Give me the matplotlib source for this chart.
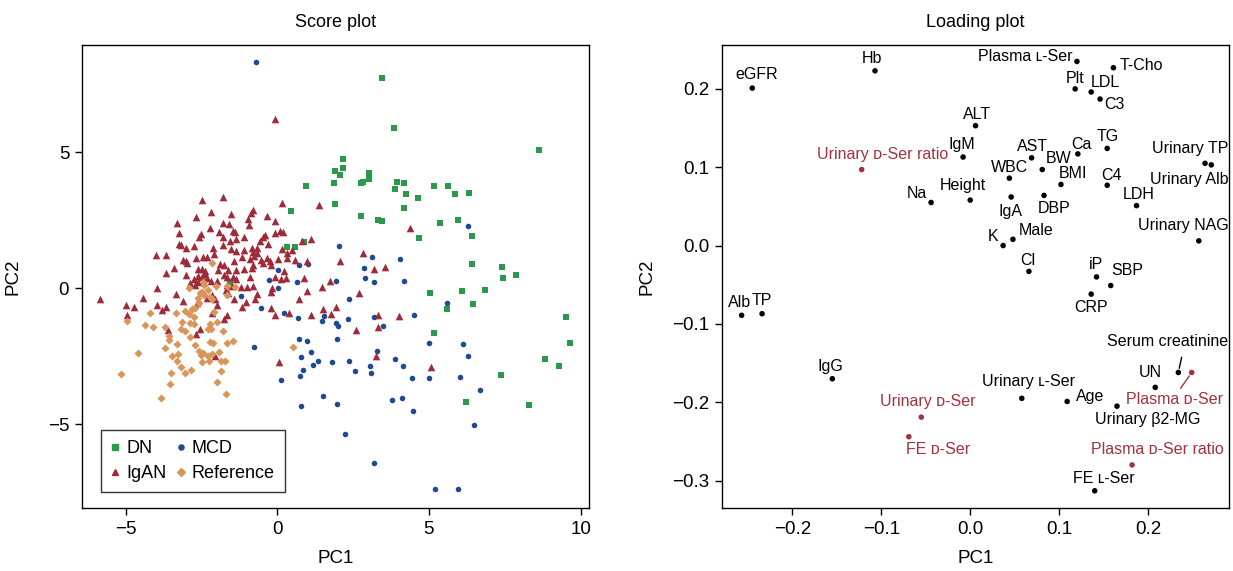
import matplotlib
matplotlib.use("Agg")
import matplotlib.pyplot as plt
from matplotlib.lines import Line2D

plt.rcParams['font.family'] = ['Liberation Sans', 'DejaVu Sans']

# ---------------- Score plot data ----------------
dn_pc1 = [3.44, 3.84, 8.63, 2.18, 2.18, 1.89, 2.08, 1.88, 3.03, 3.01, 2.76, 2.83, 3.94, 4.19, 3.89, 4.23,
          4.65, 5.16, 5.64, 5.85, 6.31, 1.90, 2.75, 3.31, 3.46, 4.17, 5.36, 5.96, 4.66, 6.42, 6.43, 7.42,
          7.43, 7.86, 5.03, 6.08, 6.85, 5.61, 6.45, 5.16, 9.51, 9.64, 8.83, 9.29, 7.38, 6.22, 8.30, 0.94,
          0.45, 0.33, 0.58, 0.88, -1.56]
dn_pc2 = [7.72, 5.90, 5.08, 4.76, 4.42, 4.30, 4.17, 3.85, 4.23, 4.01, 3.88, 3.90, 3.92, 3.86, 3.63, 3.47,
          3.32, 3.74, 3.76, 3.48, 3.51, 3.09, 2.66, 2.49, 2.46, 2.95, 2.38, 2.51, 1.84, 1.93, 0.88, 0.78,
          0.37, 0.49, -0.16, -0.11, -0.06, -0.77, -0.58, -1.65, -1.07, -2.01, -2.60, -2.86, -3.20, -4.19,
          -4.29, 3.74, 2.83, 1.53, 1.53, 1.70, 0.21]

mcd_pc1 = [-0.69, 2.03, 1.00, 0.72, 0.01, -0.27, 0.64, 1.93, 0.01, -1.21, -0.55, 0.23, 6.30, 3.11, 4.06,
           2.87, 2.90, 3.18, 4.19, 2.36, 5.61, 2.32, 3.20, 4.50, 1.93, 2.01, 3.49, 1.98, 5.00, 6.12, 3.28,
           6.28, 1.79, 2.35, 3.88, 3.05, 4.16, 2.57, 3.08, 4.45, 5.00, 6.02, 6.69, 3.77, 4.12, 1.98, 4.47,
           6.50, 2.23, 3.18, 5.20, 5.95, 0.69, 1.48, 1.55, 0.73, 0.97, -0.76, 1.12, 0.77, 1.35, 1.18, 0.86,
           0.74, 0.11, 1.51, 0.77]
mcd_pc2 = [8.32, 1.54, 0.88, 0.85, 0.66, 0.31, 0.21, 0.27, 0.00, -0.29, -0.71, -0.92, 2.29, 1.14, 1.09,
           0.76, 0.39, 0.22, 0.26, -0.38, -0.55, -1.12, -1.07, -0.97, -1.29, -1.40, -1.39, -1.85, -2.01,
           -2.06, -2.31, -2.50, -2.71, -2.66, -2.61, -2.86, -2.86, -3.03, -3.10, -3.30, -3.31, -3.25, -3.73,
           -4.11, -4.02, -4.26, -4.52, -5.03, -5.35, -6.43, -7.39, -7.39, -1.08, -1.19, -1.02, -1.88, -1.95,
           -2.15, -2.34, -2.54, -2.67, -2.81, -2.99, -3.22, -3.36, -3.95, -4.33]

igan_pc1 = [-0.07, -1.78, -2.48, 0.15, 1.39, -2.20, -0.81, -0.87, -1.52, -0.35, -2.68, -0.98, -0.09, -3.30,
            -1.80, -1.58, -0.94, -2.23, -1.45, -1.40, -1.93, -3.24, 0.10, 0.19, -0.07, -2.53, -2.59, -0.41,
            -0.46, -1.80, -1.09, -1.57, -1.36, -0.57, 1.12, 0.80, -3.23, -3.19, -0.30, -1.78, -3.00, -2.13,
            -2.75, 0.15, 0.48, -1.52, -1.36, -0.83, -0.66, -1.10, -4.00, -3.67, -2.33, -2.45, -2.10, -0.81,
            -0.66, -0.76, -3.10, -3.02, -2.98, -2.67, -1.90, -1.75, -1.43, -1.15, -0.90, -0.53, -0.47, -0.33,
            -0.24, 0.03, 0.32, 0.31, 0.57, 0.97, -0.80, -2.62, -2.49, -2.38, -3.40, -3.66, -1.95, -1.64,
            -1.37, -1.09, -0.82, 0.22, -2.76, -2.63, -2.48, -2.39, -2.33, -1.76, -1.67, -1.46, -1.35, -0.89,
            -0.09, 0.12, 0.28, 0.88, -3.02, -3.97, -2.88, -2.63, -2.43, -2.18, -2.00, -1.66, -1.50, -1.20,
            -1.01, -0.80, -0.18, 1.48, 1.74, 2.06, -0.20, 4.39, 2.83, 3.18, 3.56, 2.69, 1.93, 3.33, 4.00,
            2.59, 3.31, 3.25, 5.06, -5.86, -4.99, -4.72, -4.42, -3.97, -3.79, -3.66, -3.33, -4.95, -2.65,
            -2.32, -2.15, -2.06, -1.99, -1.68, -1.64, -1.42, -1.17, -1.04, -0.75, -0.68, -0.20, -0.21, -0.09,
            0.40, 0.73, 0.97, 1.10, 1.50, 1.76, -1.75, -1.66, -2.16, -3.59, -2.55, -2.68, -2.04, 0.06,
            -3.10, -2.70]
igan_pc2 = [6.21, 3.36, 3.24, 3.14, 3.05, 2.81, 2.89, 2.77, 2.73, 2.67, 2.61, 2.54, 2.46, 2.41, 2.38, 2.35,
            2.34, 2.22, 2.11, 2.08, 2.07, 2.02, 2.10, 2.07, 2.02, 1.99, 1.88, 1.95, 1.88, 1.90, 1.88, 1.75,
            1.80, 1.73, 1.80, 1.73, 1.64, 1.59, 1.62, 1.57, 1.48, 1.49, 1.56, 1.44, 1.42, 1.43, 1.35, 1.49,
            1.49, 1.41, 1.22, 1.22, 1.14, 1.14, 1.27, 1.32, 1.30, 1.18, 1.03, 0.99, 0.94, 1.11, 0.89, 0.85,
            0.99, 1.14, 1.07, 1.04, 0.94, 1.10, 1.00, 1.08, 1.31, 1.10, 1.04, 1.01, 0.85, 0.70, 0.70, 0.65,
            0.75, 0.57, 0.66, 0.67, 0.68, 0.70, 0.75, 0.65, 0.35, 0.45, 0.42, 0.54, 0.37, 0.50, 0.43, 0.40,
            0.33, 0.40, 0.42, 0.35, 0.39, 0.39, 0.48, 0.00, 0.18, 0.22, 0.21, 0.26, 0.27, 0.12, 0.08, 0.04,
            0.04, 0.08, 0.00, 0.04, 0.26, 1.00, 0.85, 2.21, 1.29, 0.70, 0.79, -0.16, -0.68, -0.99, -1.04,
            -1.54, -1.43, -2.51, -2.88, -0.40, -0.60, -0.68, -0.36, -0.60, -0.79, -0.70, -0.20, -0.98, -0.53,
            -0.37, -0.24, -0.40, -0.60, -0.06, -0.18, -0.38, -0.68, -0.50, -0.40, -0.22, -0.15, -0.72, -0.99,
            -0.92, -0.39, -0.09, -0.97, -0.76, -0.93, -1.12, -0.97, -0.90, -1.53, -1.50, -1.69, -2.49, -2.72,
            -0.46, 0.12]

ref_pc1 = [-2.15, -2.90, -2.44, -2.41, -2.03, -1.39, -1.67, -2.61, -2.70, -4.21, -3.34, -3.03, -2.92, -2.54,
           -2.48, -2.43, -2.28, -2.22, -2.16, -1.66, -2.58, -2.82, -2.08, -4.97, -2.74, -4.35, -4.11, -3.70,
           -3.14, -2.88, -2.75, -3.17, -3.03, -2.23, -2.00, -2.28, -2.18, -1.78, -3.56, -3.56, -2.88, -2.22,
           -2.11, -1.67, -1.45, -3.30, -3.71, -2.72, -2.57, -2.44, -2.52, -2.17, -2.28, -1.91, -3.47, -3.28,
           -4.58, -3.30, -2.48, -2.25, -1.86, -1.71, -3.17, -2.84, -3.03, -3.51, -1.86, -5.15, -2.00, -3.54,
           -3.83, -1.68, 0.53]
ref_pc2 = [0.94, 0.00, 0.21, 0.12, 0.08, 0.04, 0.08, -0.35, -0.71, -0.92, -0.90, -0.85, -0.93, -0.18,
           -0.14, -0.24, -0.06, -0.31, -0.40, -0.26, -0.56, -0.76, -0.88, -1.20, -1.07, -1.34, -1.41, -1.43,
           -1.24, -1.28, -1.31, -1.49, -1.56, -1.32, -1.23, -1.50, -1.50, -1.56, -1.75, -1.90, -1.78, -1.97,
           -2.02, -2.02, -1.93, -2.04, -2.19, -2.10, -2.32, -2.39, -2.46, -2.42, -2.51, -2.34, -2.51, -2.43,
           -2.40, -2.67, -2.71, -2.68, -2.67, -2.66, -2.90, -3.02, -3.11, -3.10, -3.05, -3.15, -3.43, -3.51,
           -4.02, -3.88, -2.16]

# ---------------- Loading plot data ----------------
load_names = ["eGFR", "Hb", "Plasma \u029f-Ser", "T-Cho", "Plt", "LDL", "C3", "ALT", "IgM",
              "Urinary \u1d05-Ser ratio", "AST", "Ca", "TG", "BW", "WBC", "BMI", "C4", "Urinary TP",
              "Urinary Alb", "Na", "Height", "IgA", "DBP", "LDH", "Urinary NAG", "K", "Male", "Cl", "iP",
              "SBP", "CRP", "Alb", "TP", "IgG", "Urinary \u1d05-Ser", "FE \u1d05-Ser", "Urinary \u029f-Ser",
              "Age", "Urinary \u03b22-MG", "UN", "Serum creatinine", "Plasma \u1d05-Ser",
              "Plasma \u1d05-Ser ratio", "FE \u029f-Ser"]
load_pc1 = [-0.245, -0.107, 0.120, 0.161, 0.118, 0.136, 0.146, 0.006, -0.008, -0.122, 0.069, 0.121, 0.154,
            0.081, 0.044, 0.102, 0.154, 0.264, 0.271, -0.044, 0.000, 0.046, 0.083, 0.187, 0.257, 0.037,
            0.048, 0.066, 0.142, 0.158, 0.136, -0.257, -0.234, -0.155, -0.055, -0.069, 0.058, 0.109, 0.165,
            0.208, 0.234, 0.249, 0.182, 0.140]
load_pc2 = [0.201, 0.223, 0.235, 0.227, 0.200, 0.196, 0.187, 0.153, 0.113, 0.097, 0.112, 0.117, 0.124,
            0.097, 0.086, 0.078, 0.077, 0.105, 0.103, 0.055, 0.058, 0.062, 0.064, 0.051, 0.006, 0.000,
            0.008, -0.033, -0.040, -0.051, -0.062, -0.089, -0.087, -0.170, -0.219, -0.244, -0.195, -0.199,
            -0.205, -0.181, -0.162, -0.162, -0.280, -0.313]
load_dser = ["Urinary \u1d05-Ser ratio", "Urinary \u1d05-Ser", "FE \u1d05-Ser", "Plasma \u1d05-Ser",
             "Plasma \u1d05-Ser ratio"]

# label placement (offset of label centre from its point, in pixels) -- styling only
label_offsets = {
    "eGFR": (4.5, 13.7), "Hb": (-2.7, 12), "Plasma \u029f-Ser": (-52, 4.7), "T-Cho": (28.3, 2.3),
    "Plt": (-0.5, 10.7), "LDL": (13.7, 9.7), "C3": (14.5, -5), "ALT": (1.3, 10.7), "IgM": (-1.5, 13),
    "Urinary \u1d05-Ser ratio": (20.7, 15), "AST": (1.3, 11.3), "Ca": (3.2, 9), "TG": (0.2, 12.3),
    "BW": (16.3, 10.7), "WBC": (0.2, 10.3), "BMI": (12.3, 10.7), "C4": (4.7, 10),
    "Urinary TP": (-15, 14.7), "Urinary Alb": (-21.8, -15), "Na": (-14, 9.3), "Height": (-7.5, 15),
    "IgA": (-0.5, -14.7), "DBP": (9.7, -13.3), "LDH": (2.2, 11), "Urinary NAG": (-15.3, 15),
    "K": (-9.7, 9), "Male": (23.3, 8.3), "Cl": (-1.5, 11), "iP": (-0.5, 12), "SBP": (17, 15),
    "CRP": (0.3, -13.7), "Alb": (-2.2, 12.3), "TP": (-0.3, 13), "IgG": (-2, 12.3),
    "Urinary \u1d05-Ser": (6.5, 16), "FE \u1d05-Ser": (29.3, -12.7), "Urinary \u029f-Ser": (6.3, 17),
    "Age": (22.5, 5), "Urinary \u03b22-MG": (31, -13.3), "UN": (-5.3, 15.3),
    "Serum creatinine": (-10.7, 31), "Plasma \u1d05-Ser": (-16.8, -27.3),
    "Plasma \u1d05-Ser ratio": (25.7, 15.3), "FE \u029f-Ser": (8.7, 12.3),
}

C_DN = '#2A9A4A'
C_MCD = '#1F4A93'
C_IGAN = '#9E2A3A'
C_REF = '#D8965A'
C_RED = '#A2323E'

fig = plt.figure(figsize=(12.33, 5.71), dpi=100)
axL = fig.add_axes([0.0663, 0.1103, 0.4112, 0.8109])
axR = fig.add_axes([0.5856, 0.1103, 0.4112, 0.8109])

tick_fs = 13.5
for ax in (axL, axR):
    for s in ax.spines.values():
        s.set_linewidth(1.0)
        s.set_color('black')
    ax.tick_params(direction='out', length=5, width=1.0, labelsize=tick_fs, pad=4)

# Score plot
axL.scatter(dn_pc1, dn_pc2, marker='s', s=20, color=C_DN, linewidths=0, zorder=3)
axL.scatter(mcd_pc1, mcd_pc2, marker='o', s=16, color=C_MCD, linewidths=0, zorder=3)
axL.scatter(igan_pc1, igan_pc2, marker='^', s=30, color=C_IGAN, linewidths=0, zorder=3)
axL.scatter(ref_pc1, ref_pc2, marker='D', s=17, color=C_REF, linewidths=0, zorder=3)
axL.set_xlim(-6.45, 10.27)
axL.set_ylim(-8.08, 8.94)
axL.set_xticks([-5, 0, 5, 10])
axL.set_yticks([-5, 0, 5])
axL.set_title('Score plot', fontsize=13, pad=13)
axL.set_xlabel('PC1', fontsize=13.5)
axL.set_ylabel('PC2', fontsize=13.5)
axL.xaxis.set_label_coords(0.5, -0.09)
axL.yaxis.set_label_coords(-0.118, 0.5)

handles = [Line2D([], [], marker='s', ls='', color=C_DN, markersize=4),
           Line2D([], [], marker='^', ls='', color=C_IGAN, markersize=5),
           Line2D([], [], marker='o', ls='', color=C_MCD, markersize=3.7),
           Line2D([], [], marker='D', ls='', color=C_REF, markersize=3.7)]
leg = axL.legend(handles, ['DN', 'IgAN', 'MCD', 'Reference'], ncol=2, loc='lower left',
                 bbox_to_anchor=(0.038, 0.034), fontsize=13, frameon=True, fancybox=False,
                 edgecolor='black', handlelength=0.5, handletextpad=0.35, columnspacing=0.55,
                 borderpad=0.55, labelspacing=0.45, borderaxespad=0)
leg.get_frame().set_linewidth(1.0)

# Loading plot
cols = [C_RED if n in load_dser else 'black' for n in load_names]
axR.scatter(load_pc1, load_pc2, s=16, c=cols, linewidths=0, zorder=3)
for n, x, y, c in zip(load_names, load_pc1, load_pc2, cols):
    dx, dy = label_offsets[n]
    if n == "Serum creatinine":
        axR.annotate(n, xy=(x, y), xytext=(dx, dy), textcoords='offset pixels', ha='center',
                     va='center', fontsize=11.5, color=c,
                     arrowprops=dict(arrowstyle='-', color='black', lw=1.0, relpos=(0.63, 0),
                                     shrinkA=4, shrinkB=3))
    elif n == "Plasma \u1d05-Ser":
        axR.annotate(n, xy=(x, y), xytext=(dx, dy), textcoords='offset pixels', ha='center',
                     va='center', fontsize=11.5, color=c,
                     arrowprops=dict(arrowstyle='-', color=C_RED, lw=1.0, relpos=(0.53, 1),
                                     shrinkA=1, shrinkB=3))
    else:
        axR.annotate(n, xy=(x, y), xytext=(dx, dy), textcoords='offset pixels', ha='center',
                     va='center', fontsize=11.5, color=c)
axR.set_xlim(-0.279, 0.291)
axR.set_ylim(-0.335, 0.256)
axR.set_xticks([-0.2, -0.1, 0.0, 0.1, 0.2])
axR.set_yticks([-0.3, -0.2, -0.1, 0.0, 0.1, 0.2])
axR.set_xticklabels(['\u22120.2', '\u22120.1', '0.0', '0.1', '0.2'])
axR.set_yticklabels(['\u22120.3', '\u22120.2', '\u22120.1', '0.0', '0.1', '0.2'])
axR.set_title('Loading plot', fontsize=13, pad=13)
axR.set_xlabel('PC1', fontsize=13.5)
axR.set_ylabel('PC2', fontsize=13.5)
axR.xaxis.set_label_coords(0.5, -0.09)
axR.yaxis.set_label_coords(-0.132, 0.5)

fig.savefig('out.png', dpi=100)
